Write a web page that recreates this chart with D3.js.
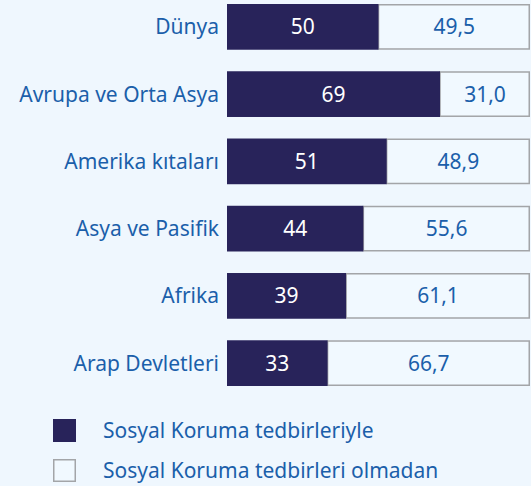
<!DOCTYPE html>
<html>
<head>
<meta charset="utf-8">
<script src="https://cdn.jsdelivr.net/npm/d3@7"></script>
<style>
  html, body { margin: 0; padding: 0; background: #eff7fe; }
  svg { display: block; }
  text { font-family: "Noto Sans", "Open Sans", sans-serif; }
</style>
</head>
<body>
<div id="chart"></div>
<script>
var regions = ["Dünya", "Avrupa ve Orta Asya", "Amerika kıtaları", "Asya ve Pasifik", "Afrika", "Arap Devletleri"];
// labels as printed
var withProtection = ["50", "69", "51", "44", "39", "33"];
var withoutProtection = ["49,5", "31,0", "48,9", "55,6", "61,1", "66,7"];
// dark bar length as drawn in the picture (% of the full bar)
var barShare = [50.0, 70.3, 52.7, 45.0, 39.3, 33.2];
var legendLabels = ["Sosyal Koruma tedbirleriyle", "Sosyal Koruma tedbirleri olmadan"];

var width = 531, height = 486;
var dark = "#28235a", textBlue = "#1b5faa", light = "#f1f9ff", grey = "#a3a5a8";

var svg = d3.select("#chart").append("svg")
  .attr("width", width)
  .attr("height", height);

var x = d3.scaleLinear().domain([0, 100]).range([227, 530]);
var y = d3.scaleBand().domain(regions).range([4, 386]).paddingInner(0.32);

var rows = svg.selectAll("g.row")
  .data(regions)
  .enter().append("g")
  .attr("class", "row")
  .attr("transform", function (d) { return "translate(0," + y(d) + ")"; });

// white part (rest of 100)
rows.append("rect")
  .attr("x", function (d, i) { return x(barShare[i]); })
  .attr("y", 0.75)
  .attr("width", function (d, i) { return x(100) - x(barShare[i]) - 0.75; })
  .attr("height", y.bandwidth() - 1.5)
  .style("fill", light)
  .style("stroke", grey)
  .style("stroke-width", 1.5);

rows.append("rect")
  .attr("x", x(0))
  .attr("y", 0)
  .attr("width", function (d, i) { return x(barShare[i]) - x(0); })
  .attr("height", y.bandwidth())
  .style("fill", dark);

rows.append("text")
  .attr("x", function (d, i) { return (x(0) + x(barShare[i])) / 2; })
  .attr("y", y.bandwidth() / 2)
  .attr("dy", "0.36em")
  .attr("text-anchor", "middle")
  .style("font-size", "21px")
  .style("fill", "#fff")
  .text(function (d, i) { return withProtection[i]; });

rows.append("text")
  .attr("x", function (d, i) { return (x(barShare[i]) + x(100)) / 2; })
  .attr("y", y.bandwidth() / 2)
  .attr("dy", "0.36em")
  .attr("text-anchor", "middle")
  .style("font-size", "21px")
  .style("fill", textBlue)
  .text(function (d, i) { return withoutProtection[i]; });

rows.append("text")
  .attr("x", 219)
  .attr("y", y.bandwidth() / 2)
  .attr("dy", "0.36em")
  .attr("text-anchor", "end")
  .style("font-size", "21px")
  .style("fill", textBlue)
  .text(function (d) { return d; });

// legend
var legend = svg.selectAll("g.legend")
  .data(legendLabels)
  .enter().append("g")
  .attr("class", "legend")
  .attr("transform", function (d, i) { return "translate(53," + (419 + i * 40) + ")"; });

legend.append("rect")
  .attr("x", function (d, i) { return i ? 0.75 : 0; })
  .attr("y", function (d, i) { return i ? 0.75 : 0; })
  .attr("width", function (d, i) { return i ? 21.5 : 23; })
  .attr("height", function (d, i) { return i ? 21.5 : 23; })
  .style("fill", function (d, i) { return i ? light : dark; })
  .style("stroke", function (d, i) { return i ? grey : "none"; })
  .style("stroke-width", 1.5);

legend.append("text")
  .attr("x", 50)
  .attr("y", 11.5)
  .attr("dy", "0.36em")
  .style("font-size", "21px")
  .style("fill", textBlue)
  .text(function (d) { return d; });
</script>
</body>
</html>
